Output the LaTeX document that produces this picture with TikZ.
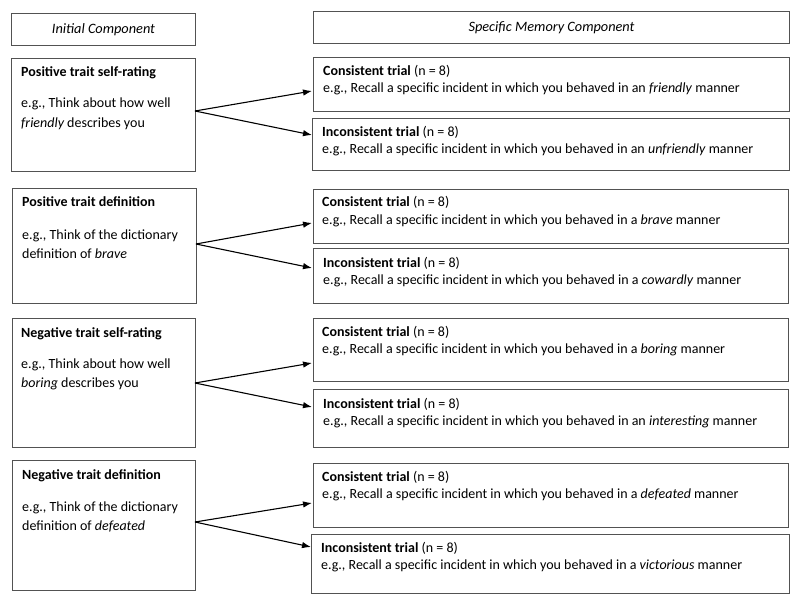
\documentclass[tikz,border=0pt]{standalone}
\usepackage{fontspec}
\setmainfont{Carlito}
\usetikzlibrary{arrows.meta}
\tikzset{
  box/.style={draw=black!68, line width=1pt, fill=none, inner sep=0pt, anchor=north west},
  ltxt/.style={anchor=base west, inner sep=0pt, font=\fontsize{14}{16}\selectfont},
  rtxt/.style={anchor=base west, inner sep=0pt, font=\fontsize{14}{16}\selectfont},
  htxt/.style={inner sep=0pt, font=\fontsize{14.3}{16}\selectfont\itshape},
  arr/.style={draw=black, line width=1.1pt, -{Latex[length=9pt,width=6.5pt]}}
}
\newcommand{\mkbox}[5]{\node[box, minimum width={#3-#1}, minimum height={#4-#2}] (#5) at (#1,#2) {};}
\begin{document}
\begin{tikzpicture}[x=1pt,y=-1pt]
\useasboundingbox (0,0) rectangle (800,604);
% headers
\mkbox{11}{13}{195}{45}{hL}
\mkbox{313}{11}{789}{43}{hR}
\node[htxt] (hLt) at (hL.center) {Initial Component};
\node[htxt] (hRt) at (hR.center) {Specific Memory Component};
% left boxes
\mkbox{11}{58}{195}{171}{L1}
\mkbox{12}{188}{196}{303}{L2}
\mkbox{12}{318}{195}{447}{L3}
\mkbox{12}{460}{195}{590}{L4}
% right boxes
\mkbox{313}{57}{789}{111}{C1}
\mkbox{312}{118}{789}{170}{I1}
\mkbox{313}{189}{788}{243}{C2}
\mkbox{313}{248}{788}{303}{I2}
\mkbox{313}{318}{788}{381}{C3}
\mkbox{313}{389}{788}{447}{I3}
\mkbox{313}{463}{788}{527}{C4}
\mkbox{311}{534}{789}{593}{I4}
% left texts
\node[ltxt] (L1a) at (21,77) {\bfseries Positive trait self-rating};
\node[ltxt] (L1b) at (21,108) {e.g., Think about how well};
\node[ltxt] (L1c) at (21,128) {\itshape friendly\upshape{} describes you};
\node[ltxt] (L2a) at (22,207) {\bfseries Positive trait definition};
\node[ltxt] (L2b) at (22,239) {e.g., Think of the dictionary};
\node[ltxt] (L2c) at (22,258) {definition of \itshape brave};
\node[ltxt] (L3a) at (21,337) {\bfseries Negative trait self-rating};
\node[ltxt] (L3b) at (21,368) {e.g., Think about how well};
\node[ltxt] (L3c) at (21,387) {\itshape boring\upshape{} describes you};
\node[ltxt] (L4a) at (22,479) {\bfseries Negative trait definition};
\node[ltxt] (L4b) at (22,511) {e.g., Think of the dictionary};
\node[ltxt] (L4c) at (22,530) {definition of \itshape defeated};
% right texts
\node[rtxt] (C1a) at (323,76) {\textbf{Consistent trial} (n = 8)};
\node[rtxt] (C1b) at (323,93) {e.g., Recall a specific incident in which you behaved in an \textit{friendly} manner};
\node[rtxt] (I1a) at (322,137) {\textbf{Inconsistent trial} (n = 8)};
\node[rtxt] (I1b) at (322,154) {e.g., Recall a specific incident in which you behaved in an \textit{unfriendly} manner};
\node[rtxt] (C2a) at (322,207) {\textbf{Consistent trial} (n = 8)};
\node[rtxt] (C2b) at (322,224) {e.g., Recall a specific incident in which you behaved in a \textit{brave} manner};
\node[rtxt] (I2a) at (323,267) {\textbf{Inconsistent trial} (n = 8)};
\node[rtxt] (I2b) at (323,284) {e.g., Recall a specific incident in which you behaved in a \textit{cowardly} manner};
\node[rtxt] (C3a) at (322,336) {\textbf{Consistent trial} (n = 8)};
\node[rtxt] (C3b) at (322,353) {e.g., Recall a specific incident in which you behaved in a \textit{boring} manner};
\node[rtxt] (I3a) at (323,408) {\textbf{Inconsistent trial} (n = 8)};
\node[rtxt] (I3b) at (323,425) {e.g., Recall a specific incident in which you behaved in an \textit{interesting} manner};
\node[rtxt] (C4a) at (322,481) {\textbf{Consistent trial} (n = 8)};
\node[rtxt] (C4b) at (322,498) {e.g., Recall a specific incident in which you behaved in a \textit{defeated} manner};
\node[rtxt] (I4a) at (321,552) {\textbf{Inconsistent trial} (n = 8)};
\node[rtxt] (I4b) at (321,569) {e.g., Recall a specific incident in which you behaved in a \textit{victorious} manner};
% arrow origins and tips
\coordinate (o1) at (195,111);
\coordinate (o2) at (196,244);
\coordinate (o3) at (195,383);
\coordinate (o4) at (195,522);
\coordinate (c1) at (312,91);  \coordinate (i1) at (312,135);
\coordinate (c2) at (312,223); \coordinate (i2) at (312,268);
\coordinate (c3) at (312,363); \coordinate (i3) at (312,407);
\coordinate (c4) at (312,503); \coordinate (i4) at (311,547);
\foreach \k in {1,2,3,4}{
  \draw[arr] (o\k) -- (c\k);
  \draw[arr] (o\k) -- (i\k);
}
\end{tikzpicture}
\end{document}
